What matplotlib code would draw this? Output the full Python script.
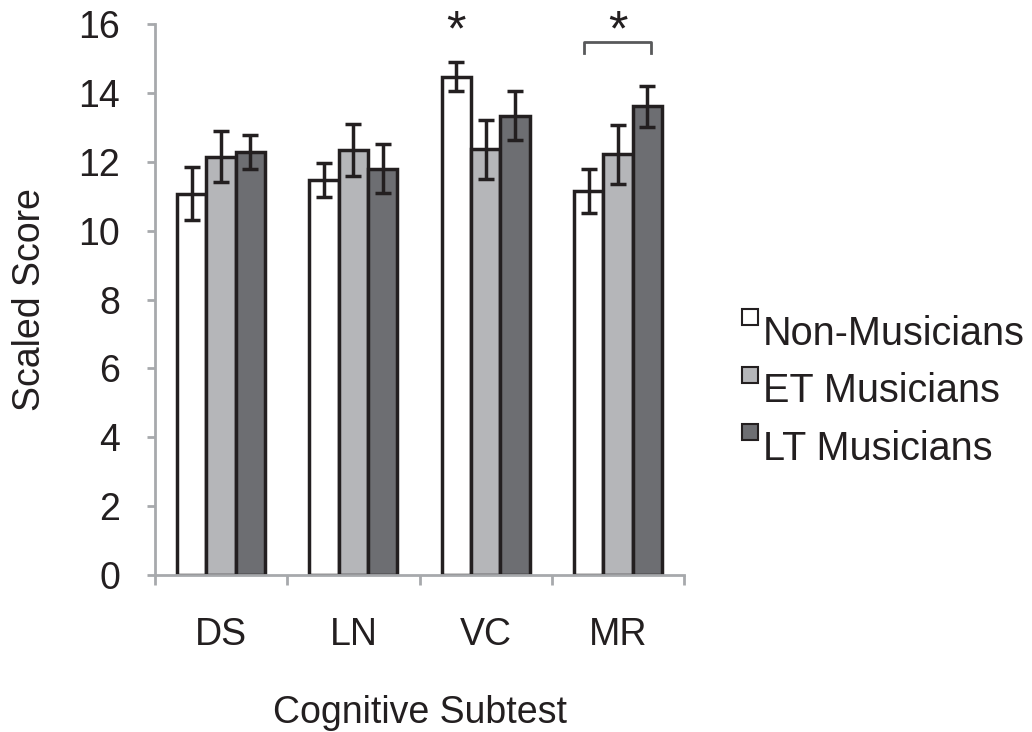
import matplotlib.pyplot as plt
import numpy as np
from matplotlib.patches import Rectangle

plt.rcParams['font.family'] = ['Liberation Sans', 'DejaVu Sans']

# Mean scaled scores and error bars per subtest
subtests = ["DS", "LN", "VC", "MR"]
groups = ["Non-Musicians", "ET Musicians", "LT Musicians"]
non_musicians = [11.07, 11.47, 14.47, 11.16]
et_musicians = [12.14, 12.34, 12.36, 12.22]
lt_musicians = [12.29, 11.80, 13.34, 13.61]
non_err = [0.77, 0.48, 0.43, 0.64]
et_err = [0.74, 0.76, 0.86, 0.86]
lt_err = [0.50, 0.72, 0.72, 0.60]

colors = ["#ffffff", "#b5b6b9", "#6d6e72"]
edge = "#231f20"
text_col = "#231f20"
axis_col = "#a7a9ac"
fs = 27

W, H = 1032, 732
fig = plt.figure(figsize=(W / 100, H / 100), dpi=100)
ax = fig.add_axes([155 / W, 157 / H, 529 / W, 551 / H])

x = np.arange(len(subtests))
w = 0.222
series = [non_musicians, et_musicians, lt_musicians]
errs = [non_err, et_err, lt_err]
for i, (vals, err, c) in enumerate(zip(series, errs, colors)):
    pos = x + (i - 1) * w
    ax.bar(pos, vals, width=w, color=c, edgecolor=edge, linewidth=2.5, zorder=2)
    ax.errorbar(pos, vals, yerr=err, fmt="none", ecolor=edge, elinewidth=2.5,
                capsize=6, capthick=2.5, zorder=3)

ax.set_xlim(-0.5, 3.5)
ax.set_ylim(0, 16)
ax.set_yticks(range(0, 17, 2))
ax.set_xticks(np.arange(-0.5, 4, 1))
ax.set_xticklabels([])
ax.set_xticks(x, minor=True)
ax.set_xticklabels(subtests, minor=True)
ax.tick_params(axis="x", which="minor", length=0, pad=30, labelsize=fs, labelcolor=text_col)
ax.tick_params(axis="x", which="major", direction="out", length=7, width=2, color=axis_col)
ax.tick_params(axis="y", direction="out", length=6, width=2, color=axis_col,
               labelsize=fs, labelcolor=text_col, pad=19)

for s in ["top", "right"]:
    ax.spines[s].set_visible(False)
for s in ["left", "bottom"]:
    ax.spines[s].set_color(axis_col)
    ax.spines[s].set_linewidth(2)

ax.set_ylabel("Scaled Score", fontsize=fs, color=text_col)
ax.yaxis.set_label_coords(-0.203, 0.5)
ax.set_xlabel("Cognitive Subtest", fontsize=fs, color=text_col)
ax.xaxis.set_label_coords(0.5, -0.218)

# significance markers
ax.text(2 - w, 15.38, "*", ha="center", va="baseline", fontsize=36, color=text_col)
ax.plot([3 - 0.253, 3 - 0.253, 3 + 0.253, 3 + 0.253], [15.15, 15.49, 15.49, 15.15],
        color="#58595b", lw=2, clip_on=False)
ax.text(3, 15.38, "*", ha="center", va="baseline", fontsize=36, color=text_col)

# legend: small squares sitting high beside each label
for k, (name, c) in enumerate(zip(groups, colors)):
    base = 345 + k * 57.5
    fig.add_artist(Rectangle((742 / W, (H - base + 20) / H), 16 / W, 16 / H,
                             transform=fig.transFigure, facecolor=c,
                             edgecolor=edge, linewidth=1.5))
    fig.text(763 / W, (H - base) / H, name, fontsize=28.5, color=text_col,
             ha="left", va="baseline")

fig.savefig("out.png", dpi=100)
